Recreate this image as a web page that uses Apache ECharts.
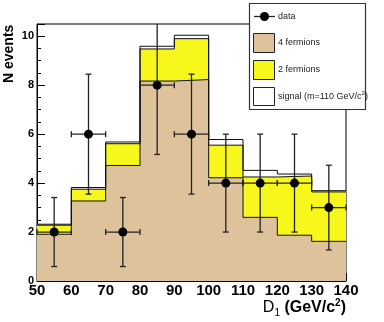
<!DOCTYPE html>
<html>
<head>
<meta charset="utf-8">
<script src="https://cdn.jsdelivr.net/npm/echarts@6/dist/echarts.min.js"></script>
<style>
  html, body { margin: 0; padding: 0; background: #fff; }
  #chart { width: 384px; height: 322px; }
</style>
</head>
<body>
<div id="chart"></div>
<script>
// bin edges and stacked MC contributions
const binEdges = [50, 60, 70, 80, 90, 100, 110, 120, 130, 140]
const fourFermions = [1.91, 3.27, 4.72, 8.17, 8.23, 4.22, 2.6, 1.87, 1.62]
const twoFermions = [0.37, 0.48, 0.89, 1.31, 1.67, 1.33, 1.65, 2.42, 2.02]
const signal110 = [0.04, 0.07, 0.07, 0.11, 0.14, 0.23, 0.27, 0.08, 0.05]

// data points
const dataX = [55, 65, 75, 85, 95, 105, 115, 125, 135]
const dataY = [2, 6, 2, 8, 6, 4, 4, 4, 3]
const dataErrX = [5, 5, 5, 5, 5, 5, 5, 5, 5]
const dataErrY = [1.41, 2.45, 1.41, 2.83, 2.45, 2, 2, 2, 1.73]

const yTickLabels = [0, 2, 4, 6, 8, 10]

const FONT = '"Liberation Sans", Arial, sans-serif'

const lvl2 = fourFermions.map((v, i) => v + twoFermions[i])
const lvl3 = lvl2.map((v, i) => v + signal110[i])

function stepData(vals) {
  return binEdges.map((e, i) => [e, vals[Math.min(i, vals.length - 1)]])
}

function histSeries(name, vals, color) {
  return {
    name, type: 'line', step: 'end', symbol: 'none', silent: true,
    data: stepData(vals),
    lineStyle: { color: '#111', width: 1 },
    areaStyle: { color, opacity: 1 },
  }
}

const chart = echarts.init(document.getElementById('chart'), null, { renderer: 'canvas' })

chart.setOption({
  animation: false,
  grid: {
    left: 37, right: 38, top: 24, bottom: 41,
    show: true, backgroundColor: '#fff', borderColor: '#000', borderWidth: 1,
  },
  xAxis: {
    type: 'value', min: 50, max: 140, interval: 10,
    axisLine: { lineStyle: { color: '#000', width: 1 } },
    axisTick: { inside: true, length: 8, lineStyle: { color: '#000' } },
    minorTick: { show: true, splitNumber: 5, length: 4, lineStyle: { color: '#000' } },
    splitLine: { show: false },
    axisLabel: { color: '#000', fontFamily: FONT, fontWeight: 'bold', fontSize: 15, margin: 2 },
  },
  yAxis: [
    {
      // minor ticks
      type: 'value', min: 0, max: 10.5, interval: 0.5,
      axisLine: { show: true, lineStyle: { color: '#000' } },
      axisTick: { inside: true, length: 4, lineStyle: { color: '#000' } },
      splitLine: { show: false },
      axisLabel: { show: false },
    },
    {
      type: 'value', min: 0, max: 10.5, interval: 2, position: 'left',
      axisLine: { show: false },
      axisTick: { inside: true, length: 8, lineStyle: { color: '#000' } },
      splitLine: { show: false },
      axisLabel: {
        color: '#000', fontFamily: FONT, fontWeight: 'bold', fontSize: 11, margin: 3,
        formatter: v => (yTickLabels.includes(v) ? String(v) : ''),
      },
    },
  ],
  series: [
    histSeries('signal (m=110 GeV/c2)', lvl3, '#ffffff'),
    histSeries('2 fermions', lvl2, '#f7f71c'),
    histSeries('4 fermions', fourFermions, '#dec29c'),
    {
      name: 'data', type: 'custom', silent: true, z: 5,
      data: dataX.map((x, i) => [x, dataY[i], dataErrX[i], dataErrY[i]]),
      renderItem(params, api) {
        const x = api.value(0), y = api.value(1), ex = api.value(2), ey = api.value(3)
        const c = api.coord([x, y])
        const l = api.coord([x - ex, y])
        const r = api.coord([x + ex, y])
        const t = api.coord([x, y + ey])
        const b = api.coord([x, y - ey])
        const cs = params.coordSys
        const top = Math.max(t[1], cs.y)
        const st = { stroke: '#222', lineWidth: 1.3 }
        const kids = [
          { type: 'line', shape: { x1: c[0], y1: top, x2: c[0], y2: b[1] }, style: st },
          { type: 'line', shape: { x1: l[0], y1: c[1], x2: r[0], y2: c[1] }, style: st },
          { type: 'line', shape: { x1: c[0] - 3, y1: b[1], x2: c[0] + 3, y2: b[1] }, style: st },
          { type: 'line', shape: { x1: l[0], y1: c[1] - 3, x2: l[0], y2: c[1] + 3 }, style: st },
          { type: 'line', shape: { x1: r[0], y1: c[1] - 3, x2: r[0], y2: c[1] + 3 }, style: st },
          { type: 'circle', shape: { cx: c[0], cy: c[1], r: 4.5 }, style: { fill: '#000' } },
        ]
        // cap only when the bar end is inside the frame
        if (t[1] >= cs.y) {
          kids.push({ type: 'line', shape: { x1: c[0] - 3, y1: t[1], x2: c[0] + 3, y2: t[1] }, style: st })
        }
        return { type: 'group', children: kids }
      },
    },
  ],
  graphic: [
    {
      type: 'text', x: 2, y: 83, z: 10,
      rotation: Math.PI / 2,
      style: { text: 'N events', font: `bold 14px ${FONT}`, fill: '#000', align: 'left', verticalAlign: 'top' },
    },
    {
      type: 'text', z: 10, x: 346, y: 308,
      style: {
        text: '{d|D}{sub|1}{b| (GeV/c}{sup|2}{b|)}',
        align: 'right', verticalAlign: 'middle',
        rich: {
          d: { fontFamily: FONT, fontSize: 16, lineHeight: 20, verticalAlign: 'middle' },
          b: { fontFamily: FONT, fontSize: 16, fontWeight: 'bold', lineHeight: 20, verticalAlign: 'middle' },
          sub: { fontFamily: FONT, fontSize: 10, lineHeight: 10, verticalAlign: 'bottom' },
          sup: { fontFamily: FONT, fontSize: 10, fontWeight: 'bold', lineHeight: 10, verticalAlign: 'top' },
        },
      },
    },
    {
      type: 'group', x: 249, y: 3, z: 20,
      children: [
        { type: 'rect', shape: { x: 0.5, y: 0.5, width: 116, height: 106 }, style: { fill: '#fff', stroke: '#333', lineWidth: 1.2 } },
        // data
        { type: 'line', shape: { x1: 5, y1: 13.5, x2: 26, y2: 13.5 }, style: { stroke: '#222', lineWidth: 1.3 } },
        { type: 'circle', shape: { cx: 15.5, cy: 13.5, r: 4.5 }, style: { fill: '#000' } },
        { type: 'text', x: 29, y: 13.5, style: { text: 'data', font: `9px ${FONT}`, fill: '#222', verticalAlign: 'middle' } },
        // 4 fermions
        { type: 'rect', shape: { x: 4.5, y: 30.5, width: 21, height: 19 }, style: { fill: '#dec29c', stroke: '#222', lineWidth: 1 } },
        { type: 'text', x: 29, y: 40, style: { text: '4 fermions', font: `9px ${FONT}`, fill: '#222', verticalAlign: 'middle' } },
        // 2 fermions
        { type: 'rect', shape: { x: 4.5, y: 57.5, width: 21, height: 19 }, style: { fill: '#f7f71c', stroke: '#222', lineWidth: 1 } },
        { type: 'text', x: 29, y: 66.5, style: { text: '2 fermions', font: `9px ${FONT}`, fill: '#222', verticalAlign: 'middle' } },
        // signal
        { type: 'rect', shape: { x: 4.5, y: 84.5, width: 21, height: 18 }, style: { fill: '#fff', stroke: '#222', lineWidth: 1 } },
        {
          type: 'text', x: 29, y: 93.5,
          style: {
            text: '{t|signal (m=110 GeV/c}{s|2}{t|)}', verticalAlign: 'middle', fill: '#222',
            rich: {
              t: { fontFamily: FONT, fontSize: 9, lineHeight: 12, verticalAlign: 'middle' },
              s: { fontFamily: FONT, fontSize: 6, lineHeight: 6, verticalAlign: 'top' },
            },
          },
        },
      ],
    },
  ],
})

window.addEventListener('resize', () => chart.resize())
</script>
</body>
</html>
